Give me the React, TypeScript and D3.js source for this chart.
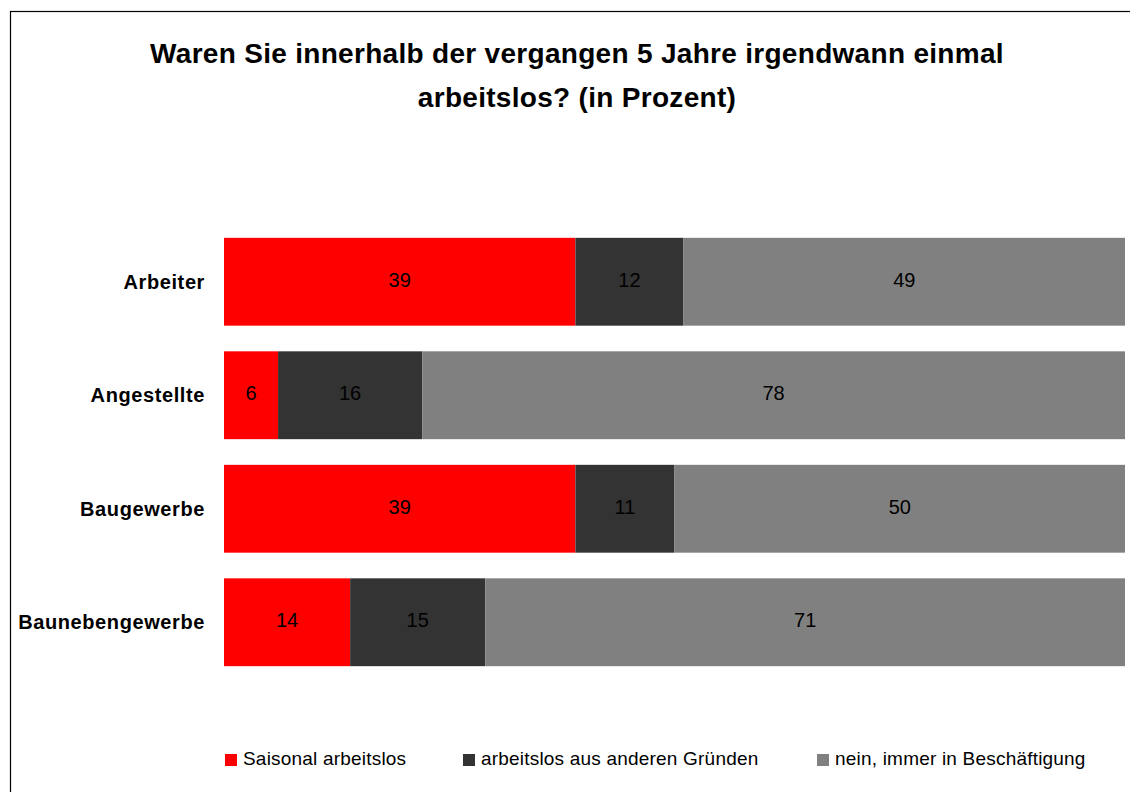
import { useEffect, useRef } from 'react';
import * as d3 from 'd3';

const categories = ['Arbeiter', 'Angestellte', 'Baugewerbe', 'Baunebengewerbe'];
const seriesNames = ['Saisonal arbeitslos', 'arbeitslos aus anderen Gründen', 'nein, immer in Beschäftigung'];
const saisonal = [39, 6, 39, 14];
const andereGruende = [12, 16, 11, 15];
const beschaeftigt = [49, 78, 50, 71];
const colors = ['#ff0000', '#333333', '#808080'];
const titleLines = ['Waren Sie innerhalb der vergangen 5 Jahre irgendwann einmal', 'arbeitslos? (in Prozent)'];

const FONT = 'Arial, "Liberation Sans", sans-serif';

export default function App() {
  const svgRef = useRef<SVGSVGElement>(null);

  useEffect(() => {
    if (!svgRef.current) return;
    const W = 1130, H = 792;
    const svg = d3.select(svgRef.current).attr('width', W).attr('height', H);
    svg.selectAll('*').remove();

    // Frame (right and bottom edges run off the picture)
    svg.append('rect')
      .attr('x', 10.5).attr('y', 11.5).attr('width', 1140).attr('height', 800)
      .attr('fill', '#fff').attr('stroke', '#000').attr('stroke-width', 1.2);

    // Title
    svg.append('g').selectAll('text')
      .data(titleLines)
      .enter().append('text')
      .attr('x', 577).attr('y', (_, i) => 62.5 + i * 44)
      .attr('text-anchor', 'middle')
      .attr('font-family', FONT).attr('font-weight', 'bold').attr('font-size', 28)
      .attr('letter-spacing', 0.3)
      .attr('fill', '#000')
      .text(d => d);

    const x = d3.scaleLinear().domain([0, 100]).range([224, 1125]);
    const y = d3.scaleBand<string>()
      .domain(categories)
      .range([225, 679])
      .paddingInner(0.226)
      .paddingOuter(0.113);

    const rows = categories.map((c, i) => ({ cat: c, 0: saisonal[i], 1: andereGruende[i], 2: beschaeftigt[i] }));
    const stack = d3.stack<any>().keys(['0', '1', '2'])(rows);

    const g = svg.append('g');
    stack.forEach((layer, si) => {
      const lg = g.append('g');
      lg.selectAll('rect')
        .data(layer)
        .enter().append('rect')
        .attr('x', d => x(d[0]))
        .attr('y', d => y(d.data.cat)!)
        .attr('width', d => x(d[1]) - x(d[0]))
        .attr('height', y.bandwidth())
        .attr('fill', colors[si]);
      lg.selectAll('text')
        .data(layer)
        .enter().append('text')
        .attr('x', d => (x(d[0]) + x(d[1])) / 2)
        .attr('y', d => y(d.data.cat)! + y.bandwidth() / 2 + 5)
        .attr('text-anchor', 'middle')
        .attr('font-family', FONT).attr('font-size', 20)
        .attr('fill', '#000')
        .text(d => d[1] - d[0]);
    });

    // Category labels
    g.append('g').selectAll('text')
      .data(categories)
      .enter().append('text')
      .attr('x', 205)
      .attr('y', d => y(d)! + y.bandwidth() / 2 + 7)
      .attr('text-anchor', 'end')
      .attr('font-family', FONT).attr('font-weight', 'bold').attr('font-size', 20)
      .attr('letter-spacing', 0.6)
      .attr('fill', '#000')
      .text(d => d);

    // Legend
    const legendX = [225, 463, 817];
    const leg = svg.append('g').selectAll('g')
      .data(seriesNames)
      .enter().append('g')
      .attr('transform', (_, i) => `translate(${legendX[i]},754)`);
    leg.append('rect').attr('width', 12).attr('height', 12).attr('fill', (_, i) => colors[i]);
    leg.append('text')
      .attr('x', 18).attr('y', 11)
      .attr('font-family', FONT).attr('font-size', 19)
      .attr('letter-spacing', 0.2)
      .attr('fill', '#000')
      .text(d => d);
  }, []);

  return (
    <div style={{ position: 'absolute', left: 0, top: 0, width: 1130, height: 792, overflow: 'hidden', background: '#fff' }}>
      <svg ref={svgRef} style={{ display: 'block' }} />
    </div>
  );
}
